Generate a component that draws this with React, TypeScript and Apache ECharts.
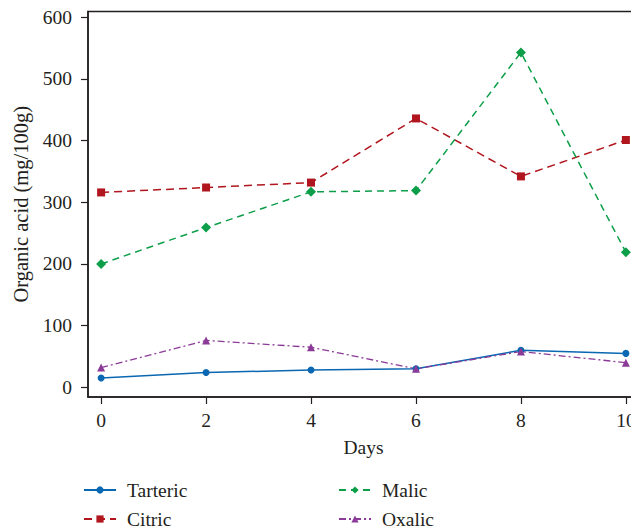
import React, { useEffect, useRef } from "react";
import * as echarts from "echarts";

const days = [0, 2, 4, 6, 8, 10];
const tarteric = [15, 24, 28, 30, 60, 55];
const citric = [316, 324, 332, 436, 342, 401];
const malic = [200, 259, 317, 319, 543, 219];
const oxalic = [32, 76, 65, 30, 58, 40];
const xTicks = [0, 2, 4, 6, 8, 10];
const yTicks = [0, 100, 200, 300, 400, 500, 600];

const FONT = "Liberation Serif";
const INK = "#231f20";

export default function App() {
  const ref = useRef<HTMLDivElement>(null);
  useEffect(() => {
    if (!ref.current) return;
    const chart = echarts.init(ref.current, null, { renderer: "svg" });
    const pair = (arr: number[]) => days.map((d, i) => [d, arr[i]]);
    const legendText = { fontFamily: FONT, fontSize: 19.5, color: INK, lineHeight: 18, padding: [0, 0, 0, 6] };
    chart.setOption({
      animation: false,
      textStyle: { fontFamily: FONT, color: INK },
      grid: {
        left: 88,
        top: 11.5,
        bottom: 131,
        right: 6,
        show: true,
        borderColor: INK,
        borderWidth: 1.5,
      },
      xAxis: {
        type: "value",
        min: -0.25,
        max: 10.25,
        name: "Days",
        nameLocation: "middle",
        nameGap: 40,
        nameTextStyle: { fontFamily: FONT, fontSize: 19.5, color: INK },
        splitLine: { show: false },
        axisLine: { show: true, onZero: false, lineStyle: { color: INK, width: 1.5 } },
        axisTick: { show: true, length: 7, customValues: xTicks, lineStyle: { color: INK, width: 1.2 } },
        axisLabel: { customValues: xTicks, margin: 13, fontFamily: FONT, fontSize: 19.5, color: INK },
      },
      yAxis: {
        type: "value",
        min: -15.7,
        max: 609.4,
        name: "Organic acid (mg/100g)",
        nameLocation: "middle",
        nameGap: 55,
        nameTextStyle: { fontFamily: FONT, fontSize: 20.5, color: INK },
        splitLine: { show: false },
        axisLine: { show: true, onZero: false, lineStyle: { color: INK, width: 1.5 } },
        axisTick: { show: true, length: 7, customValues: yTicks, lineStyle: { color: INK, width: 1.2 } },
        axisLabel: { customValues: yTicks, margin: 16, fontFamily: FONT, fontSize: 19.5, color: INK },
      },
      legend: [
        {
          orient: "vertical",
          left: 83,
          top: 480,
          width: 200,
          height: 80,
          itemWidth: 32,
          itemHeight: 9,
          itemGap: 9,
          padding: 0,
          data: ["Tarteric", "Citric"],
          textStyle: legendText,
        },
        {
          orient: "vertical",
          left: 338,
          top: 480,
          width: 200,
          height: 80,
          itemWidth: 32,
          itemHeight: 9,
          itemGap: 9,
          padding: 0,
          data: ["Malic", "Oxalic"],
          textStyle: legendText,
        },
      ],
      series: [
        {
          name: "Tarteric",
          type: "line",
          data: pair(tarteric),
          symbol: "circle",
          symbolSize: 7,
          color: "#0a67b2",
          lineStyle: { width: 1.5, type: "solid" },
        },
        {
          name: "Citric",
          type: "line",
          data: pair(citric),
          symbol: "rect",
          symbolSize: 8,
          color: "#b1151d",
          lineStyle: { width: 1.5, type: [8, 5] },
        },
        {
          name: "Malic",
          type: "line",
          data: pair(malic),
          symbol: "diamond",
          symbolSize: 10,
          color: "#0c9e48",
          lineStyle: { width: 1.5, type: [7, 5] },
        },
        {
          name: "Oxalic",
          type: "line",
          data: pair(oxalic),
          symbol: "triangle",
          symbolSize: 8,
          color: "#8b3b97",
          lineStyle: { width: 1.3, type: [7, 3, 2, 3] },
        },
      ],
    });
    return () => chart.dispose();
  }, []);
  return (
    <div style={{ position: "fixed", left: 0, top: 0, width: 631, height: 528, overflow: "hidden", background: "#fff" }}>
      <div ref={ref} style={{ width: 645, height: 528 }} />
    </div>
  );
}
